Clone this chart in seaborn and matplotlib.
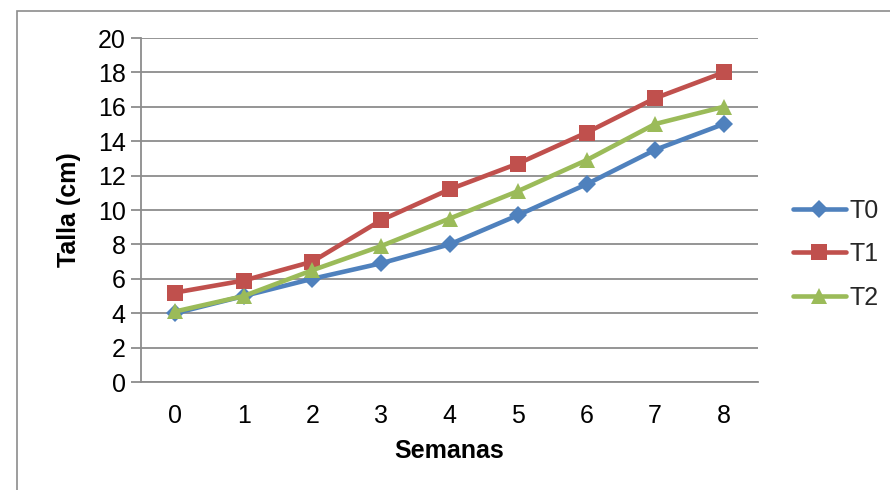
import matplotlib
matplotlib.use('Agg')
import matplotlib.pyplot as plt
import pandas as pd
import seaborn as sns
from matplotlib.patches import Rectangle

semanas = [0, 1, 2, 3, 4, 5, 6, 7, 8]
t0 = [4.0, 5.0, 6.0, 6.9, 8.0, 9.7, 11.5, 13.5, 15.0]
t1 = [5.2, 5.9, 7.0, 9.4, 11.2, 12.7, 14.5, 16.5, 18.0]
t2 = [4.1, 5.0, 6.5, 7.9, 9.5, 11.1, 12.9, 15.0, 16.0]
series_names = ['T0', 'T1', 'T2']
y_ticks = [0, 2, 4, 6, 8, 10, 12, 14, 16, 18, 20]

df = pd.DataFrame({
    'Semanas': semanas * 3,
    'Talla': t0 + t1 + t2,
    'serie': [n for n in series_names for _ in semanas],
})

sns.set_theme(style='white')
plt.rcParams['font.family'] = ['Liberation Sans', 'DejaVu Sans']

fig = plt.figure(figsize=(8.9, 4.9), dpi=100)
ax = fig.add_axes([141 / 890, 1 - 382 / 490, 617 / 890, 344 / 490])

colors = {'T0': '#4F81BD', 'T1': '#C0504D', 'T2': '#9BBB59'}
markers = {'T0': 'D', 'T1': 's', 'T2': '^'}
msizes = {'T0': 9, 'T1': 11, 'T2': 12}

for name in series_names:
    sub = df[df['serie'] == name]
    sns.lineplot(
        data=sub, x='Semanas', y='Talla', ax=ax,
        color=colors[name], marker=markers[name], markersize=msizes[name],
        markeredgewidth=0, linewidth=3.3, label=name,
    )

grid_color = '#8C8C8C'
fs = 18
ax.set_xlim(-0.5, 8.5)
ax.set_ylim(0, 20)
ax.set_yticks(y_ticks)
ax.set_xticks(semanas)
ax.yaxis.grid(True, color=grid_color, linewidth=1.3)
ax.set_axisbelow(True)
for side in ['top', 'right']:
    ax.spines[side].set_visible(False)
for side in ['left', 'bottom']:
    ax.spines[side].set_color(grid_color)
    ax.spines[side].set_linewidth(1.3)
ax.tick_params(axis='y', length=7, width=1.3, color=grid_color, direction='out',
               labelsize=fs, pad=4, left=True, labelcolor='black')
ax.tick_params(axis='x', length=0, labelsize=fs, pad=16, labelcolor='black')

ax.set_xlabel('Semanas', fontsize=fs, fontweight='bold', labelpad=8, color='black')
ax.set_ylabel('Talla (cm)', fontsize=fs, fontweight='bold', labelpad=12, color='black')

ax.legend(
    loc='center left', bbox_to_anchor=(793 / 890, 1 - 254 / 490),
    bbox_transform=fig.transFigure, frameon=False, fontsize=fs,
    handlelength=2.1, handletextpad=0.15, labelspacing=0.78, borderaxespad=0,
    borderpad=0,
)

fig.patches.append(Rectangle(
    (17 / 890, -0.1), 1.2, 1 - 11 / 490 + 0.1,
    transform=fig.transFigure, fill=False, edgecolor='#8C8C8C', linewidth=1.2,
))

fig.savefig('out.png', dpi=100)
